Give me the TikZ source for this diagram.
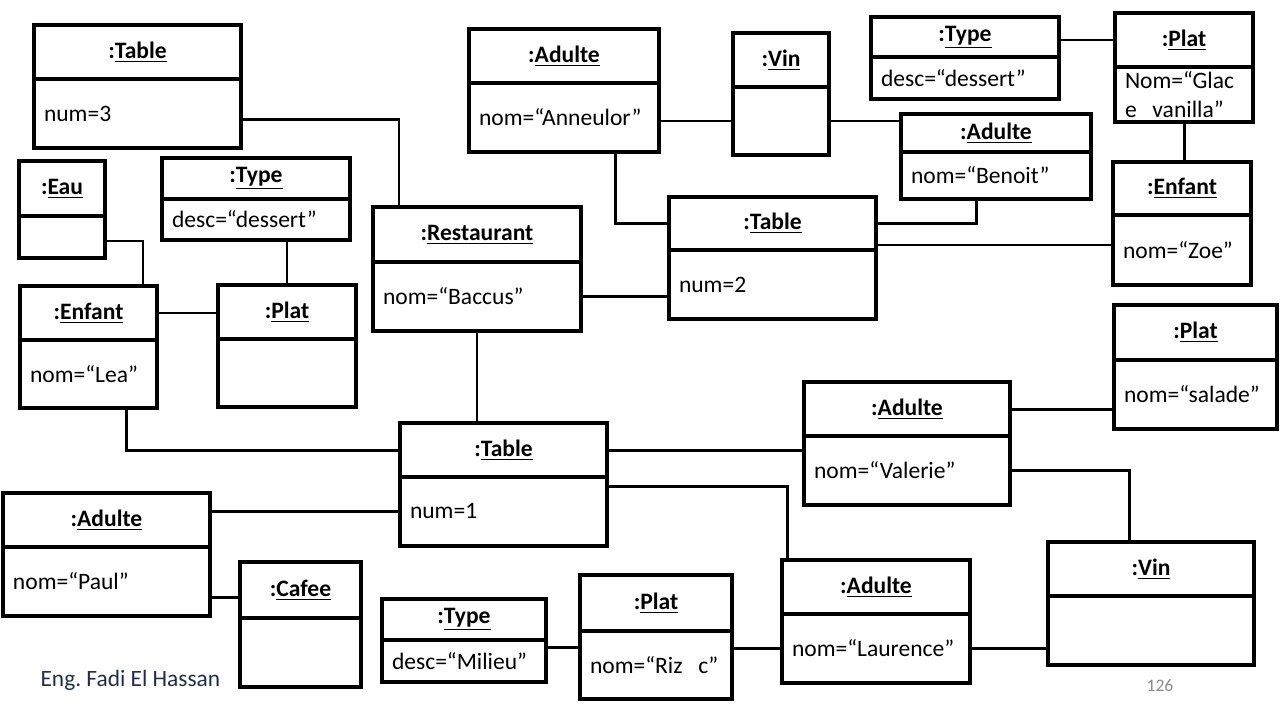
\documentclass[tikz,border=0pt]{standalone}
\usepackage{fontspec}
\setmainfont{Carlito}
\usetikzlibrary{calc}
\definecolor{authorblue}{RGB}{32,44,86}
\definecolor{pagegray}{RGB}{140,140,140}
\begin{document}
\begin{tikzpicture}[line width=1.8pt,
  objhead/.style={draw, outer sep=0pt, inner sep=0pt, anchor=north west, font=\fontsize{13.4}{16}\selectfont\bfseries},
  objbody/.style={draw, outer sep=0pt, inner xsep=0.2cm, inner ysep=0pt, anchor=north west, align=left, font=\fontsize{13.4}{16.4}\selectfont},
  link/.style={line width=1.7pt}]
  \useasboundingbox (0,0) rectangle (25.6,-14.4);
  \node[objhead, minimum width=4.14cm, minimum height=1.08cm] (tabC) at (0.68,-0.50) {:\underline{Table}};
  \node[objbody, text width=3.74cm, minimum height=1.38cm] (tabCb) at (tabC.south west) {num=3};
  \node[objhead, minimum width=1.72cm, minimum height=1.10cm] (eau) at (0.38,-3.22) {:\underline{Eau}};
  \node[objbody, text width=1.32cm, minimum height=0.84cm] (eaub) at (eau.south west) {};
  \node[objhead, minimum width=3.76cm, minimum height=0.82cm] (typeA) at (3.24,-3.16) {:\underline{Type}};
  \node[objbody, text width=3.36cm, minimum height=0.82cm] (typeAb) at (typeA.south west) {desc=“dessert”};
  \node[objhead, minimum width=2.74cm, minimum height=1.08cm] (lea) at (0.40,-5.72) {:\underline{Enfant}};
  \node[objbody, text width=2.34cm, minimum height=1.36cm] (leab) at (lea.south west) {nom=“Lea”};
  \node[objhead, minimum width=2.76cm, minimum height=1.08cm] (platA) at (4.36,-5.70) {:\underline{Plat}};
  \node[objbody, text width=2.36cm, minimum height=1.36cm] (platAb) at (platA.south west) {};
  \node[objhead, minimum width=4.16cm, minimum height=1.10cm] (resto) at (7.46,-4.14) {:\underline{Restaurant}};
  \node[objbody, text width=3.76cm, minimum height=1.38cm] (restob) at (resto.south west) {nom=“Baccus”};
  \node[objhead, minimum width=3.80cm, minimum height=1.08cm] (anne) at (9.38,-0.58) {:\underline{Adulte}};
  \node[objbody, text width=3.40cm, minimum height=1.38cm] (anneb) at (anne.south west) {nom=“Anneulor”};
  \node[objhead, minimum width=1.92cm, minimum height=1.08cm] (vinA) at (14.66,-0.66) {:\underline{Vin}};
  \node[objbody, text width=1.52cm, minimum height=1.36cm] (vinAb) at (vinA.south west) {};
  \node[objhead, minimum width=4.14cm, minimum height=1.06cm] (tabB) at (13.38,-3.94) {:\underline{Table}};
  \node[objbody, text width=3.74cm, minimum height=1.38cm] (tabBb) at (tabB.south west) {num=2};
  \node[objhead, minimum width=3.76cm, minimum height=0.80cm] (typeB) at (17.42,-0.34) {:\underline{Type}};
  \node[objbody, text width=3.36cm, minimum height=0.84cm] (typeBb) at (typeB.south west) {desc=“dessert”};
  \node[objhead, minimum width=2.76cm, minimum height=1.08cm] (glace) at (22.30,-0.26) {:\underline{Plat}};
  \node[objbody, text width=2.36cm, minimum height=1.10cm] (glaceb) at (glace.south west) {Nom=“Glac\\e\ \ vanilla”};
  \node[objhead, minimum width=3.80cm, minimum height=0.76cm] (benoit) at (18.02,-2.28) {:\underline{Adulte}};
  \node[objbody, text width=3.40cm, minimum height=0.94cm] (benoitb) at (benoit.south west) {nom=“Benoit”};
  \node[objhead, minimum width=2.76cm, minimum height=1.06cm] (zoe) at (22.26,-3.24) {:\underline{Enfant}};
  \node[objbody, text width=2.36cm, minimum height=1.40cm] (zoeb) at (zoe.south west) {nom=“Zoe”};
  \node[objhead, minimum width=3.26cm, minimum height=1.10cm] (salade) at (22.28,-6.10) {:\underline{Plat}};
  \node[objbody, text width=2.86cm, minimum height=1.38cm] (saladeb) at (salade.south west) {nom=“salade”};
  \node[objhead, minimum width=4.12cm, minimum height=1.08cm] (valerie) at (16.08,-7.64) {:\underline{Adulte}};
  \node[objbody, text width=3.72cm, minimum height=1.38cm] (valerieb) at (valerie.south west) {nom=“Valerie”};
  \node[objhead, minimum width=4.14cm, minimum height=1.08cm] (tabA) at (8.00,-8.46) {:\underline{Table}};
  \node[objbody, text width=3.74cm, minimum height=1.38cm] (tabAb) at (tabA.south west) {num=1};
  \node[objhead, minimum width=4.14cm, minimum height=1.08cm] (paul) at (0.06,-9.86) {:\underline{Adulte}};
  \node[objbody, text width=3.74cm, minimum height=1.38cm] (paulb) at (paul.south west) {nom=“Paul”};
  \node[objhead, minimum width=2.42cm, minimum height=1.12cm] (cafee) at (4.80,-11.24) {:\underline{Cafee}};
  \node[objbody, text width=2.02cm, minimum height=1.38cm] (cafeeb) at (cafee.south west) {};
  \node[objhead, minimum width=3.28cm, minimum height=0.82cm] (typeC) at (7.64,-11.98) {:\underline{Type}};
  \node[objbody, text width=2.88cm, minimum height=0.84cm] (typeCb) at (typeC.south west) {desc=“Milieu”};
  \node[objhead, minimum width=3.04cm, minimum height=1.12cm] (riz) at (11.60,-11.50) {:\underline{Plat}};
  \node[objbody, text width=2.64cm, minimum height=1.36cm] (rizb) at (riz.south west) {nom=“Riz\ \ c”};
  \node[objhead, minimum width=3.76cm, minimum height=1.08cm] (laurence) at (15.64,-11.20) {:\underline{Adulte}};
  \node[objbody, text width=3.36cm, minimum height=1.38cm] (laurenceb) at (laurence.south west) {nom=“Laurence”};
  \node[objhead, minimum width=4.12cm, minimum height=1.08cm] (vinB) at (20.96,-10.84) {:\underline{Vin}};
  \node[objbody, text width=3.72cm, minimum height=1.38cm] (vinBb) at (vinB.south west) {};
  \draw[link] ($(tabCb.east)+(0,-0.12)$) -| ($(resto.north west)+(0.52,0)$);
  \draw[link] ($(eaub.east)+(0,-0.08)$) -| ($(lea.north east)+(-0.28,0)$);
  \draw[link] (platA.north |- typeAb.south) -- (platA.north);
  \draw[link] (lea.east) -- (lea.east -| platA.west);
  \draw[link] ($(leab.south)+(0.76,0)$) |- (tabA.west);
  \draw[link] (restob.south) -- (restob.south |- tabA.north);
  \draw[link] (restob.east) -- (restob.east -| tabBb.west);
  \draw[link] ($(anneb.south east)+(-0.88,0)$) |- (tabB.west);
  \draw[link] (vinAb.west -| anneb.east) -- (vinAb.west);
  \draw[link] (vinAb.east) -- (vinAb.east -| benoit.west);
  \draw[link] ($(benoitb.south)+(-0.40,0)$) |- (tabB.east);
  \draw[link] ($(zoeb.west)+(0,0.10)$) -- ($(zoeb.west -| tabB.east)+(0,0.10)$);
  \draw[link] (glace.west -| typeB.east) -- (glace.west);
  \draw[link] (glaceb.south) -- (glaceb.south |- zoe.north);
  \draw[link] (tabA.east) -- (tabA.east -| valerie.west);
  \draw[link] (valerie.east) -- (valerie.east -| saladeb.west);
  \draw[link] (valerieb.east) -| ($(vinB.north)+(-0.44,0)$);
  \draw[link] ($(tabAb.north east)+(0,-0.18)$) -| ($(laurence.north west)+(0.10,0)$);
  \draw[link] (tabAb.west -| paul.east) -- (tabAb.west);
  \draw[link] ($(cafee.west)+(0,-0.14)$) -- ($(cafee.west -| paulb.east)+(0,-0.14)$);
  \draw[link] ($(rizb.north west)+(0,-0.32)$) -- ($(rizb.north west -| typeCb.east)+(0,-0.32)$);
  \draw[link] (laurenceb.west -| rizb.east) -- (laurenceb.west);
  \draw[link] (laurenceb.east) -- (laurenceb.east -| vinBb.west);
  \node[font=\fontsize{13.3}{16}\selectfont, text=authorblue, anchor=west, inner sep=0pt] (author) at (0.78,-13.60) {Eng.\ Fadi El Hassan};
  \node[font=\fontsize{10}{12}\selectfont, text=pagegray, inner sep=0pt] (pagenum) at (23.20,-13.72) {126};
\end{tikzpicture}
\end{document}
